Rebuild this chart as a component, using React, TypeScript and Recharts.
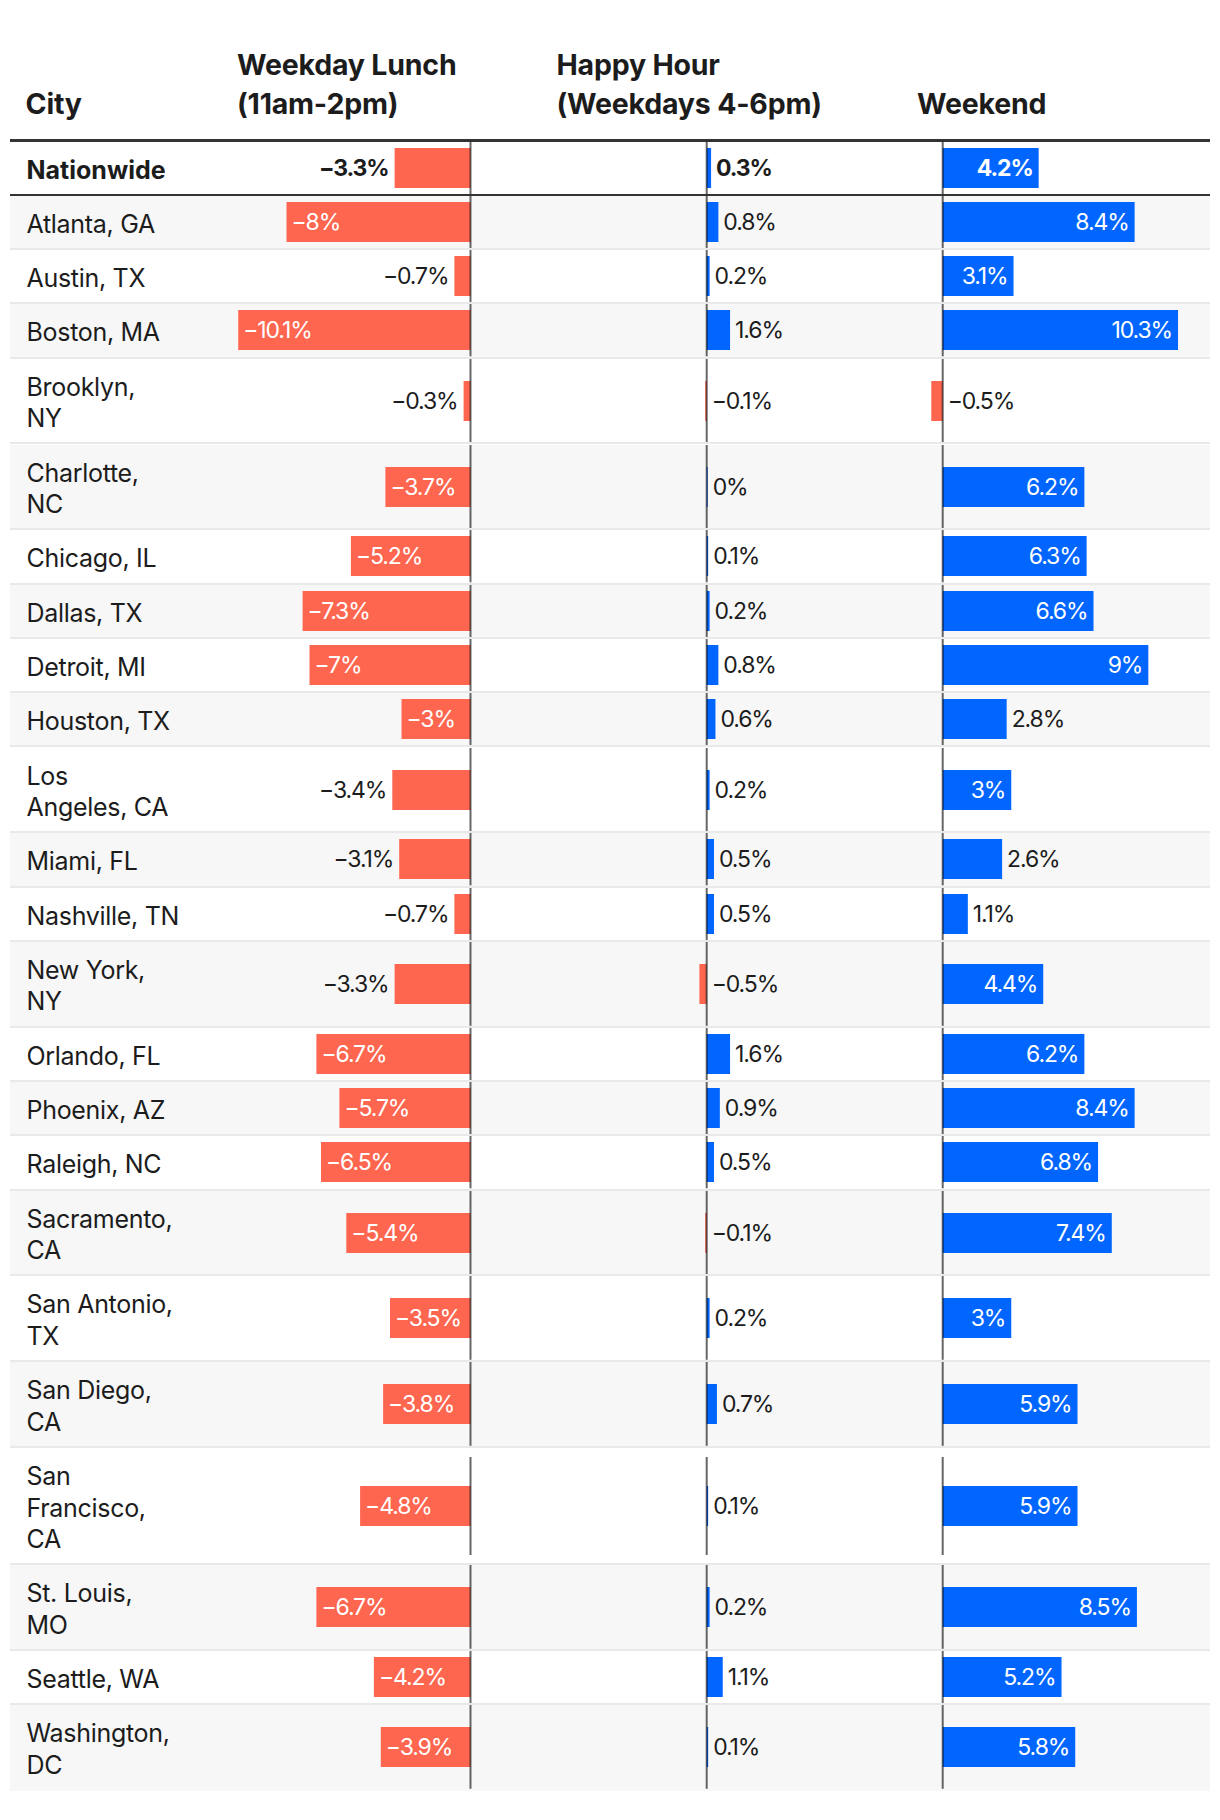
import React from 'react';
import { BarChart, Bar, XAxis, YAxis, Cell, LabelList, ReferenceLine } from 'recharts';

// row labels, "\n" marks where the original table wraps the name
const cities = [
  'Nationwide',
  'Atlanta, GA',
  'Austin, TX',
  'Boston, MA',
  'Brooklyn,\nNY',
  'Charlotte,\nNC',
  'Chicago, IL',
  'Dallas, TX',
  'Detroit, MI',
  'Houston, TX',
  'Los\nAngeles, CA',
  'Miami, FL',
  'Nashville, TN',
  'New York,\nNY',
  'Orlando, FL',
  'Phoenix, AZ',
  'Raleigh, NC',
  'Sacramento,\nCA',
  'San Antonio,\nTX',
  'San Diego,\nCA',
  'San\nFrancisco,\nCA',
  'St. Louis,\nMO',
  'Seattle, WA',
  'Washington,\nDC',
];

const weekdayLunch = [
  -3.3, -8, -0.7, -10.1, -0.3, -3.7, -5.2, -7.3, -7, -3, -3.4, -3.1, -0.7, -3.3, -6.7, -5.7, -6.5, -5.4,
  -3.5, -3.8, -4.8, -6.7, -4.2, -3.9,
];
const happyHour = [
  0.3, 0.8, 0.2, 1.6, -0.1, 0, 0.1, 0.2, 0.8, 0.6, 0.2, 0.5, 0.5, -0.5, 1.6, 0.9, 0.5, -0.1, 0.2, 0.7, 0.1,
  0.2, 1.1, 0.1,
];
const weekend = [
  4.2, 8.4, 3.1, 10.3, -0.5, 6.2, 6.3, 6.6, 9, 2.8, 3, 2.6, 1.1, 4.4, 6.2, 8.4, 6.8, 7.4, 3, 5.9, 5.9, 8.5,
  5.2, 5.8,
];

const headers = ['City', 'Weekday Lunch\n(11am-2pm)', 'Happy Hour\n(Weekdays 4-6pm)', 'Weekend'];

const FONT = 'Inter, "Noto Sans", sans-serif';
const TEXT = '#1c1c1c';
const RED = '#ff6650';
const BLUE = '#0066ff';
const STRIPE = '#f7f7f7';
const SEP = '#e9e9e9';
const RULE = '#333333';

const TABLE_LEFT = 10;
const TABLE_WIDTH = 1200;
const BODY_TOP = 141.5;
const ROW_BASE = 54.3;
const LINE_H = 31.5;
const BORDER = 2;
const LABEL_SIZE = 23;
const LABEL_SPACING = -1.1;
const FIT_PAD = 20;

type Column = {
  key: string;
  values: number[];
  zero: number;
  pxPerUnit: number;
  left: number;
  right: number;
  outside: 'left' | 'right';
};

const columns: Column[] = [
  { key: 'lunch', values: weekdayLunch, zero: 470.5, pxPerUnit: 23.0, left: 200, right: 600, outside: 'left' },
  { key: 'happy', values: happyHour, zero: 706.7, pxPerUnit: 14.6, left: 600, right: 900, outside: 'right' },
  { key: 'weekend', values: weekend, zero: 942.7, pxPerUnit: 22.85, left: 900, right: 1210, outside: 'right' },
];

const headerX = [25.5, 237, 556.5, 917];

const fmt = (v: number) => `${v < 0 ? '\u2212' : ''}${Math.abs(v)}%`;

// rough glyph widths of the original label font, used to decide if a label fits in its bar
const glyphW: Record<string, number> = { '\u2212': 10, '1': 9, '.': 5.5, '%': 19 };
const labelWidth = (s: string) => s.split('').reduce((acc, ch) => acc + (glyphW[ch] ?? 12.5), 0);

const makeLabel = (col: Column, bold: boolean) => (props: any) => {
  const vb = props.viewBox || {};
  const x = Number(props.x ?? vb.x);
  const y = Number(props.y ?? vb.y);
  const w = Number(props.width ?? vb.width);
  const h = Number(props.height ?? vb.height);
  const v = Number(props.value);
  const left = Math.min(x, x + w);
  const right = Math.max(x, x + w);
  const text = fmt(v);
  const fits = right - left >= labelWidth(text) + FIT_PAD;
  let tx: number;
  let anchor: 'start' | 'end';
  let fill = TEXT;
  if (fits) {
    fill = '#ffffff';
    if (v < 0) {
      tx = left + 5;
      anchor = 'start';
    } else {
      tx = right - 6;
      anchor = 'end';
    }
  } else if (col.outside === 'left') {
    tx = left - 6;
    anchor = 'end';
  } else {
    tx = right + 5;
    anchor = 'start';
  }
  return (
    <text
      x={tx}
      y={y + h / 2}
      textAnchor={anchor}
      dominantBaseline="central"
      fill={fill}
      fontFamily={FONT}
      fontSize={LABEL_SIZE}
      fontWeight={bold ? 700 : 400}
      letterSpacing={LABEL_SPACING}
    >
      {text}
    </text>
  );
};

const BarCell = ({ col, index, height }: { col: Column; index: number; height: number }) => {
  const width = col.right - col.left;
  const domain: [number, number] = [
    (col.left - col.zero) / col.pxPerUnit,
    (col.right - col.zero) / col.pxPerUnit,
  ];
  const data = [{ city: cities[index], value: col.values[index] }];
  const chartH = Math.min(height, 98);
  return (
    <div style={{ position: 'absolute', left: col.left - TABLE_LEFT, top: (height - chartH) / 2, width, height: chartH }}>
      <BarChart width={width} height={chartH} data={data} layout="vertical" margin={{ top: 0, right: 0, bottom: 0, left: 0 }}>
        <XAxis type="number" hide domain={domain} allowDataOverflow />
        <YAxis type="category" dataKey="city" hide />
        <Bar dataKey="value" barSize={40} minPointSize={1} isAnimationActive={false}>
          {data.map((d) => (
            <Cell key={`cell-${col.key}-${index}`} fill={d.value < 0 ? RED : BLUE} />
          ))}
          <LabelList dataKey="value" content={makeLabel(col, index === 0)} />
        </Bar>
        <ReferenceLine x={0} stroke="rgba(0,0,0,0.6)" strokeWidth={2} />
      </BarChart>
    </div>
  );
};

const App = () => {
  let top = BODY_TOP;
  const rows = cities.map((city, i) => {
    const lines = city.split('\n');
    const h = ROW_BASE + (lines.length - 1) * LINE_H;
    const rowTop = top;
    top += h;
    const last = i === cities.length - 1;
    const contentH = h - BORDER;
    return (
      <div
        key={`row-${i}`}
        style={{
          position: 'absolute',
          left: TABLE_LEFT,
          top: rowTop,
          width: TABLE_WIDTH,
          height: h,
          boxSizing: 'border-box',
          background: i % 2 === 1 ? STRIPE : '#ffffff',
          borderBottom: last ? 'none' : `${BORDER}px solid ${i === 0 ? RULE : SEP}`,
        }}
      >
        <div
          style={{
            position: 'absolute',
            left: 16.5,
            top: 13,
            fontSize: 25,
            lineHeight: `${LINE_H}px`,
            fontWeight: i === 0 ? 700 : 400,
            color: TEXT,
            letterSpacing: i === 0 ? 0 : -0.3,
            whiteSpace: 'pre',
          }}
        >
          {city}
        </div>
        {columns.map((col) => (
          <BarCell key={`${col.key}-${i}`} col={col} index={i} height={contentH} />
        ))}
      </div>
    );
  });

  return (
    <div style={{ position: 'absolute', left: 0, top: 0, width: 1220, height: 1820, background: '#ffffff', fontFamily: FONT }}>
      {headers.map((hd, i) => {
        const n = hd.split('\n').length;
        return (
          <div
            key={`hd-${i}`}
            style={{
              position: 'absolute',
              left: headerX[i],
              top: 84 - (n - 1) * 39,
              fontSize: 28.5,
              lineHeight: '39px',
              fontWeight: 700,
              color: TEXT,
              letterSpacing: -0.2,
              whiteSpace: 'pre',
            }}
          >
            {hd}
          </div>
        );
      })}
      <div style={{ position: 'absolute', left: TABLE_LEFT, top: 138.5, width: TABLE_WIDTH, height: 3, background: RULE }} />
      {rows}
    </div>
  );
};

export default App;
